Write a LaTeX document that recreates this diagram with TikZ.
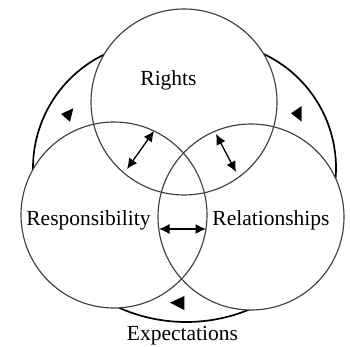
\documentclass[tikz,border=0pt]{standalone}
\usepackage{fontspec}
\setmainfont{Liberation Serif}
\usetikzlibrary{arrows.meta}
\tikzset{
  ring/.style={circle, draw=black!75, line width=1.15pt, minimum size=186pt, inner sep=0pt},
  outerarc/.style={black, line width=1.7pt},
  lbl/.style={font=\fontsize{21.5}{24}\selectfont, anchor=base, inner sep=0pt},
  dblarrow/.style={line width=1.3pt, {Latex[length=10.5pt,width=10pt]}-{Latex[length=10.5pt,width=10pt]}},
  mark tri/.style={fill=black}
}
\begin{document}
\begin{tikzpicture}[x=1pt,y=1pt]
\useasboundingbox (0,0) rectangle (350,-347);
% outer arcs
\draw[outerarc] (159,-168) ++(113:126) arc (113:184:126);
\draw[outerarc] (210,-168) ++(70:126) arc (70:-8:126);
\draw[outerarc] (186.2,-156.2) ++(-118:165.8) arc (-118:-66:165.8);
% circle interiors
\coordinate (ct) at (184,-102);
\coordinate (cl) at (114,-215);
\coordinate (cr) at (251,-217);
\fill[white] (ct) circle (93);
\fill[white] (cl) circle (93);
\fill[white] (cr) circle (93);
% circles
\node[ring] (rights) at (ct) {};
\node[ring] (resp) at (cl) {};
\node[ring] (rel) at (cr) {};
% labels
\node[lbl] (lrights) at (168.5,-86) {Rights};
\node[lbl] (lresp) at (88.5,-225) {Responsibility};
\node[lbl] (lrel) at (271,-225) {Relationships};
\node[lbl] (lexp) at (182.5,-340) {Expectations};
% double arrows
\coordinate (a1s) at (154,-131);
\coordinate (a1e) at (127,-169);
\coordinate (a2s) at (216,-134);
\coordinate (a2e) at (236,-172);
\coordinate (a3s) at (159,-229);
\coordinate (a3e) at (206,-229);
\draw[dblarrow] (a1s) -- (a1e);
\draw[dblarrow] (a2s) -- (a2e);
\draw[dblarrow] (a3s) -- (a3e);
% direction marks
\fill[mark tri] (61,-114) -- (73.3,-108.3) -- (70,-121.7) -- cycle;
\fill[mark tri] (291,-113.3) -- (301.7,-106) -- (301.7,-121.7) -- cycle;
\fill[mark tri] (170,-302.7) -- (184.3,-296) -- (184.3,-310) -- cycle;
\end{tikzpicture}
\end{document}
